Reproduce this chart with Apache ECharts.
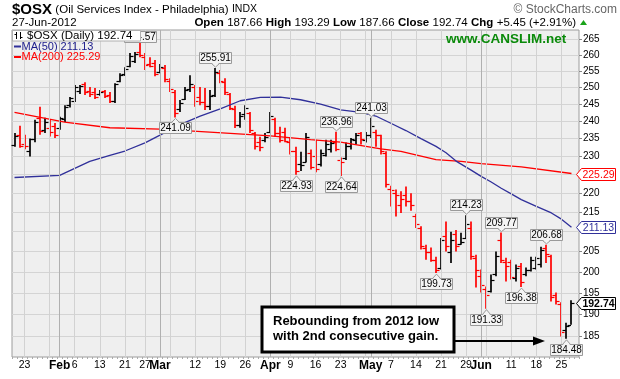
<!DOCTYPE html>
<html><head><meta charset="utf-8">
<script src="https://cdn.jsdelivr.net/npm/echarts@6/dist/echarts.min.js"></script>
<style>html,body{margin:0;padding:0;background:#fff}#c{width:620px;height:379px}</style>
</head><body><div id="c"></div>
<script>
// ---------- DATA ----------
const days = [
 "2012-01-19","2012-01-20","2012-01-23","2012-01-24","2012-01-25","2012-01-26","2012-01-27","2012-01-30","2012-01-31",
 "2012-02-01","2012-02-02","2012-02-03","2012-02-06","2012-02-07","2012-02-08","2012-02-09","2012-02-10","2012-02-13","2012-02-14",
 "2012-02-15","2012-02-16","2012-02-17","2012-02-21","2012-02-22","2012-02-23","2012-02-24","2012-02-27","2012-02-28","2012-02-29",
 "2012-03-01","2012-03-02","2012-03-05","2012-03-06","2012-03-07","2012-03-08","2012-03-09","2012-03-12","2012-03-13","2012-03-14",
 "2012-03-15","2012-03-16","2012-03-19","2012-03-20","2012-03-21","2012-03-22","2012-03-23","2012-03-26","2012-03-27","2012-03-28",
 "2012-03-29","2012-03-30",
 "2012-04-02","2012-04-03","2012-04-04","2012-04-05","2012-04-09","2012-04-10","2012-04-11","2012-04-12","2012-04-13","2012-04-16",
 "2012-04-17","2012-04-18","2012-04-19","2012-04-20","2012-04-23","2012-04-24","2012-04-25","2012-04-26","2012-04-27","2012-04-30",
 "2012-05-01","2012-05-02","2012-05-03","2012-05-04","2012-05-07","2012-05-08","2012-05-09","2012-05-10","2012-05-11","2012-05-14",
 "2012-05-15","2012-05-16","2012-05-17","2012-05-18","2012-05-21","2012-05-22","2012-05-23","2012-05-24","2012-05-25","2012-05-29",
 "2012-05-30","2012-05-31",
 "2012-06-01","2012-06-04","2012-06-05","2012-06-06","2012-06-07","2012-06-08","2012-06-11","2012-06-12","2012-06-13","2012-06-14",
 "2012-06-15","2012-06-18","2012-06-19","2012-06-20","2012-06-21","2012-06-22","2012-06-25","2012-06-26","2012-06-27"
];
const opens = [233.3,236.0,233.4,231.5,235.0,241.0,237.5,238.0,238.5,
 238.0,240.5,244.8,246.0,249.0,251.0,248.8,248.5,248.0,248.8,247.8,246.0,252.0,254.0,256.5,258.0,261.0,259.5,257.2,257.5,
 254.8,256.0,252.0,248.5,243.5,246.5,249.5,250.0,247.0,245.5,244.5,247.8,254.5,251.5,248.0,243.5,239.0,242.0,242.5,236.5,234.0,234.5,
 237.0,240.5,236.5,237.0,234.0,231.5,228.0,228.5,231.0,230.0,228.0,230.5,232.0,234.0,229.0,229.5,233.0,234.5,236.5,234.5,
 236.0,237.0,236.0,231.0,221.0,220.0,217.0,219.5,218.0,214.0,211.0,206.0,205.0,203.0,201.0,209.0,205.0,209.5,207.0,208.5,211.0,203.5,
 199.0,196.0,195.5,199.5,208.0,202.5,202.5,198.5,201.5,199.5,200.5,201.0,202.0,205.8,204.0,194.5,192.5,186.5,187.66];
const highs = [236.6,238.7,236.1,235.0,240.4,244.2,241.0,240.4,239.5,
 241.3,244.7,247.1,250.7,250.7,251.6,250.1,249.8,249.2,249.2,248.6,251.3,254.3,256.2,260.6,260.9,264.57,260.6,259.3,258.4,
 257.2,256.9,252.8,249.2,246.2,250.1,253.7,250.7,250.1,249.8,249.2,255.91,255.3,252.8,248.3,244.5,242.7,244.7,242.7,236.9,235.5,236.6,
 242.7,241.0,238.4,238.1,235.2,232.7,231.3,236.6,231.9,234.7,231.9,234.7,234.7,236.96,229.7,233.9,235.2,236.6,236.9,236.9,
 241.03,237.5,236.1,231.4,222.0,221.0,220.5,221.8,220.0,214.6,211.4,206.7,206.0,203.7,208.4,212.6,210.0,210.4,209.7,214.23,212.6,204.2,
 200.6,196.5,199.4,205.0,209.77,203.5,203.0,201.8,202.2,201.1,203.7,203.7,206.2,206.68,204.2,195.1,192.8,188.1,193.29];
const lows = [232.7,232.4,232.0,230.0,234.0,236.1,236.6,235.6,235.2,
 237.5,239.8,244.0,245.6,248.0,247.7,247.1,246.5,247.5,246.8,245.3,245.3,251.6,253.5,256.2,257.5,259.3,255.3,256.2,253.4,
 254.3,251.6,248.6,241.09,242.7,246.2,248.6,244.2,244.7,243.3,243.3,247.1,251.3,247.7,243.3,238.0,238.1,240.4,236.6,231.9,231.4,234.0,
 236.6,235.5,233.9,234.0,230.5,224.93,226.0,228.3,226.4,225.6,227.2,230.0,231.1,231.4,224.64,229.0,231.9,233.3,233.3,233.9,
 235.2,232.7,230.5,221.5,216.5,213.9,214.8,216.5,215.4,210.9,205.5,203.0,202.5,199.73,200.6,205.0,202.2,205.0,206.7,208.4,203.0,196.3,
 195.1,191.33,195.1,199.0,202.2,197.7,198.2,197.7,196.38,199.0,200.1,200.6,201.1,202.2,193.0,192.3,185.0,184.48,187.66];
const closes = [235.6,233.0,232.8,234.8,239.8,237.2,239.9,236.8,236.0,
 240.8,244.2,246.8,250.0,250.3,248.5,248.0,247.0,248.6,247.5,246.0,251.0,253.8,255.6,259.8,260.2,259.9,257.0,256.6,254.0,
 256.3,252.5,249.5,242.5,245.3,249.2,250.9,246.0,245.5,244.5,247.5,254.8,252.0,248.5,244.0,239.0,241.5,243.8,237.5,233.0,232.5,235.5,
 241.5,236.5,234.5,234.2,231.5,226.0,227.5,235.5,227.0,226.5,231.0,233.5,233.8,232.0,228.5,233.0,234.8,236.0,234.8,236.0,
 238.5,236.0,231.5,222.5,220.8,219.5,218.5,218.0,217.0,212.0,206.5,204.8,203.0,200.5,208.0,206.5,208.0,206.5,207.5,212.0,204.0,200.5,
 197.0,194.5,198.0,204.0,203.0,201.5,198.8,201.0,197.5,200.5,203.0,203.5,205.5,204.5,194.0,193.0,186.0,187.29,192.74];

// MA readings
const ma50Days = ["2012-01-19","2012-02-01","2012-02-09","2012-02-15","2012-02-21","2012-02-27","2012-03-01","2012-03-07","2012-03-13",
 "2012-03-19","2012-03-23","2012-03-29","2012-04-04","2012-04-11","2012-04-17","2012-04-23","2012-04-27","2012-05-02","2012-05-07",
 "2012-05-10","2012-05-15","2012-05-18","2012-05-22","2012-05-24","2012-05-30","2012-06-01","2012-06-05","2012-06-07","2012-06-11",
 "2012-06-13","2012-06-18","2012-06-21","2012-06-25","2012-06-27"];
const ma50Vals = [224.2,224.8,228.6,230.3,231.5,233.8,236.0,239.0,241.5,
 243.6,246.0,247.0,247.1,246.3,245.0,243.3,242.6,241.5,239.4,
 237.3,235.0,232.8,231.0,228.7,226.2,224.5,223.0,221.3,219.8,
 218.3,216.5,214.8,213.2,211.13];
const ma200Days = ["2012-01-19","2012-02-02","2012-02-15","2012-03-01","2012-03-08","2012-03-21","2012-04-02","2012-04-13","2012-04-23",
 "2012-05-03","2012-05-09","2012-05-18","2012-05-25","2012-06-01","2012-06-13","2012-06-27"];
const ma200Vals = [242.6,239.7,238.1,237.7,237.3,236.5,235.8,234.7,234.0,232.1,231.4,229.1,228.6,228.0,227.1,225.29];

const yTicks = [185,190,195,200,205,210,215,220,225,230,235,240,245,250,255,260,265];
const xLabelDays = ["2012-01-23","2012-02-01","2012-02-06","2012-02-13","2012-02-21","2012-02-27","2012-03-01","2012-03-12","2012-03-19",
 "2012-03-26","2012-04-02","2012-04-09","2012-04-16","2012-04-23","2012-05-01","2012-05-07","2012-05-14","2012-05-21","2012-05-29",
 "2012-06-01","2012-06-11","2012-06-18","2012-06-25"];
const xLabelTexts = ["23","Feb","6","13","21","27","Mar","12","19","26","Apr","9","16","23","May","7","14","21","29","Jun","11","18","25"];
const weekLineDays = ["2012-01-23","2012-01-30","2012-02-06","2012-02-13","2012-02-21","2012-02-27","2012-03-05","2012-03-12","2012-03-19",
 "2012-03-26","2012-04-09","2012-04-16","2012-04-23","2012-04-30","2012-05-07","2012-05-14","2012-05-21","2012-05-29","2012-06-04",
 "2012-06-11","2012-06-18","2012-06-25"];
const monthLineDays = ["2012-02-01","2012-03-01","2012-04-02","2012-05-01","2012-06-01"];

const peakDays = ["2012-02-24","2012-03-06","2012-03-16","2012-04-10","2012-04-20","2012-04-23","2012-05-01","2012-05-18","2012-05-29",
 "2012-06-04","2012-06-07","2012-06-13","2012-06-20","2012-06-26"];
const peakVals = [264.57,241.09,255.91,224.93,236.96,224.64,241.03,199.73,214.23,191.33,209.77,196.38,206.68,184.48];
const peakDirs = [1,-1,1,-1,1,-1,1,-1,1,-1,1,-1,1,-1];

// ---------- BUILD ----------
const FONT = '"Liberation Sans", Arial, sans-serif';
const cats = days.concat(['']);
const idx = d => days.indexOf(d);
const ohlc = days.map((d, i) => [i, opens[i], closes[i], lows[i], highs[i], (i > 0 && closes[i] < closes[i-1]) ? 1 : 0]);
const ma50Data = ma50Days.map((d, k) => [idx(d), ma50Vals[k]]);
const ma200Data = ma200Days.map((d, k) => [idx(d), ma200Vals[k]]);
const peakData = peakDays.map((d, k) => [idx(d), peakVals[k], peakDirs[k]]);
const last = days.length - 1;
const tagData = [[last, ma200Vals[ma200Vals.length-1], 0], [last, ma50Vals[ma50Vals.length-1], 1], [last, closes[last], 2]];
const labelMap = {};
xLabelDays.forEach((d, k) => labelMap[d] = xLabelTexts[k]);
const monthNames = ['Jan','Feb','Mar','Apr','May','Jun','Jul'];

const RED = '#ff0000', BLUE = '#30309a';

function renderOHLC(params, api) {
  const i = api.value(0);
  const pO = api.coord([i, api.value(1)]);
  const pC = api.coord([i, api.value(2)]);
  const pL = api.coord([i, api.value(3)]);
  const pH = api.coord([i, api.value(4)]);
  const col = api.value(5) ? RED : '#000';
  const x = Math.round(pH[0]);
  const yo = Math.round(pO[1]) + 0.5, yc = Math.round(pC[1]) + 0.5;
  return {type:'group', children:[
    {type:'line', shape:{x1:x, y1:pH[1], x2:x, y2:pL[1]}, style:{stroke:col, lineWidth:1.7}},
    {type:'line', shape:{x1:x-3.5, y1:yo, x2:x, y2:yo}, style:{stroke:col, lineWidth:1.2}},
    {type:'line', shape:{x1:x, y1:yc, x2:x+3.5, y2:yc}, style:{stroke:col, lineWidth:1.2}}
  ]};
}

function renderPeak(params, api) {
  const cs = params.coordSys;
  const p = api.coord([api.value(0), api.value(1)]);
  const up = api.value(2) > 0;
  const txt = api.value(1).toFixed(2);
  const w = 32, h = 11, gap = 5;
  const x = Math.round(p[0]) + 0.5;
  let by = up ? Math.round(p[1] - gap - h) + 0.5 : Math.round(p[1] + gap) + 0.5;
  by = Math.max(by, cs.y + 1.5);
  by = Math.min(by, cs.y + cs.height - h - 1.5);
  const baseY = up ? by + h : by;
  const tipY = up ? p[1] - 1 : p[1] + 1;
  const children = [
    {type:'rect', shape:{x:x - w/2, y:by, width:w, height:h}, style:{fill:'#f4f4f4', stroke:'#9a9a9a', lineWidth:1}}
  ];
  if ((up && tipY > baseY + 1) || (!up && tipY < baseY - 1)) {
    children.push({type:'polygon', shape:{points:[[x-4, baseY + (up?-1:1)], [x+4, baseY + (up?-1:1)], [x, tipY]]}, style:{fill:'#f4f4f4'}});
    children.push({type:'polyline', shape:{points:[[x-4, baseY], [x, tipY], [x+4, baseY]]}, style:{stroke:'#9a9a9a', fill:null, lineWidth:1}});
  }
  children.push({type:'text', style:{text:txt, x:x, y:by + h/2 + 0.5, align:'center', verticalAlign:'middle', fontSize:10, fontFamily:FONT, fill:'#000'}});
  return {type:'group', children:children};
}

const tagStyles = [
  {stroke:RED, fill:RED, weight:'normal'},
  {stroke:BLUE, fill:BLUE, weight:'normal'},
  {stroke:'#000', fill:'#000', weight:'bold'}
];
function renderTag(params, api) {
  const cs = params.coordSys;
  const y = Math.round(api.coord([api.value(0), api.value(1)])[1]) + 0.5;
  const x0 = cs.x + cs.width - 2.5;
  const s = tagStyles[api.value(2)];
  const pts = [[x0, y], [x0+5, y-6], [x0+39, y-6], [x0+39, y+6], [x0+5, y+6]];
  return {type:'group', children:[
    {type:'polygon', shape:{points:pts}, style:{fill:'#fff', stroke:s.stroke, lineWidth:1}},
    {type:'text', style:{text:api.value(1).toFixed(2), x:x0+22, y:y+0.5, align:'center', verticalAlign:'middle', fontSize:10.5, fontWeight:s.weight, fontFamily:FONT, fill:s.fill}}
  ]};
}

const vLines = weekLineDays.map(d => ({xAxis: idx(d), lineStyle:{color:'#d2d2d2', width:1, type:'solid'}}))
  .concat(monthLineDays.map(d => ({xAxis: idx(d), lineStyle:{color:'#b0b0b0', width:1, type:'solid'}})));

const chart = echarts.init(document.getElementById('c'), null, {renderer:'canvas'});
chart.setOption({
  animation: false,
  textStyle: {fontFamily: FONT},
  grid: {left:12, top:30, width:567, height:327, show:true, backgroundColor:'#efefef', borderColor:'#9c9c9c', borderWidth:1},
  xAxis: {
    type:'category', data:cats, boundaryGap:true,
    axisLine:{show:false},
    axisTick:{show:true, interval:0, length:2, lineStyle:{color:'#aaa'}},
    axisLabel:{
      interval:(i, v) => labelMap[v] !== undefined,
      margin:3, color:'#000',
      formatter:(v) => { const t = labelMap[v]; return monthNames.indexOf(t) >= 0 ? '{m|' + t + '}' : '{d|' + t + '}'; },
      rich:{m:{fontWeight:'bold', fontSize:12, fontFamily:FONT, color:'#000'}, d:{fontSize:10.5, fontFamily:FONT, color:'#000'}}
    },
    splitLine:{show:false}
  },
  yAxis: {
    type:'log', logBase:10, min:180.47, max:267.97, position:'right',
    axisLine:{show:false},
    axisTick:{show:true, length:3, customValues:yTicks, lineStyle:{color:'#888'}},
    axisLabel:{customValues:yTicks, fontSize:10, color:'#000', margin:4, fontFamily:FONT},
    splitLine:{show:true, lineStyle:{color:'#d4d4d4', width:1}}
  },
  series: [
    {type:'line', name:'vgrid', data:[], z:1, silent:true,
     markLine:{silent:true, symbol:['none','none'], label:{show:false}, animation:false, data:vLines}},
    {type:'custom', name:'ohlc', renderItem:renderOHLC, data:ohlc, encode:{x:0, y:[1,2,3,4]}, z:3, clip:false},
    {type:'line', name:'MA200', data:ma200Data, showSymbol:false, symbol:'none', connectNulls:true, z:4,
     lineStyle:{color:RED, width:1.3}},
    {type:'line', name:'MA50', data:ma50Data, showSymbol:false, symbol:'none', connectNulls:true, z:4,
     lineStyle:{color:BLUE, width:1.3}},
    {type:'custom', name:'peaks', renderItem:renderPeak, data:peakData, encode:{x:0, y:1}, z:6, clip:false},
    {type:'custom', name:'tags', renderItem:renderTag, data:tagData, encode:{x:0, y:1}, z:6, clip:false}
  ],
  graphic: [
    {type:'text', left:12, top:2, z:100, style:{text:'{b|$OSX} {n|(Oil Services Index - Philadelphia)} {s|INDX}', rich:{
      b:{fontWeight:'bold', fontSize:15, fontFamily:FONT, fill:'#000'},
      n:{fontSize:11.5, fontFamily:FONT, fill:'#000'},
      s:{fontSize:10.5, fontFamily:FONT, fill:'#000'}}}},
    {type:'text', right:3, top:4, z:100, style:{text:'© StockCharts.com', fontSize:12, fontFamily:FONT, fill:'#666'}},
    {type:'text', left:12, top:17, z:100, style:{text:'27-Jun-2012', fontSize:11.5, fontFamily:FONT, fill:'#000'}},
    {type:'text', right:44, top:17, z:100, style:{
      text:'{b|Open} {n|187.66} {b|High} {n|193.29} {b|Low} {n|187.66} {b|Close} {n|192.74} {b|Chg} {n|+5.45 (+2.91%)}',
      rich:{b:{fontWeight:'bold', fontSize:11.5, fontFamily:FONT, fill:'#000'}, n:{fontSize:11.5, fontFamily:FONT, fill:'#000'}}}},
    {type:'polygon', z:100, shape:{points:[[580,25],[587,25],[583.5,20]]}, style:{fill:'#1aa31a'}},
    // legend
    {type:'rect', z:100, shape:{x:12.5, y:30.5, width:128, height:10.5}, style:{fill:'#fff', stroke:'#b0b0b0'}},
    {type:'line', z:101, shape:{x1:16.5, y1:32, x2:16.5, y2:39}, style:{stroke:'#000', lineWidth:1}},
    {type:'line', z:101, shape:{x1:14.5, y1:34.5, x2:16.5, y2:34.5}, style:{stroke:'#000', lineWidth:1}},
    {type:'line', z:101, shape:{x1:20.5, y1:32, x2:20.5, y2:39}, style:{stroke:'#000', lineWidth:1}},
    {type:'line', z:101, shape:{x1:20.5, y1:37.5, x2:22.5, y2:37.5}, style:{stroke:'#000', lineWidth:1}},
    {type:'text', z:101, left:27, top:30, style:{text:'$OSX (Daily) 192.74', fontSize:11.5, fontFamily:FONT, fill:'#000'}},
    {type:'line', z:101, shape:{x1:14, y1:46.5, x2:21, y2:46.5}, style:{stroke:BLUE, lineWidth:2}},
    {type:'text', z:101, left:21.5, top:41, style:{text:'MA(50) 211.13', fontSize:11, fontFamily:FONT, fill:'#1c1c8c'}},
    {type:'line', z:101, shape:{x1:14, y1:57, x2:21, y2:57}, style:{stroke:RED, lineWidth:2}},
    {type:'text', z:101, left:21.5, top:51.5, style:{text:'MA(200) 225.29', fontSize:11, fontFamily:FONT, fill:RED}},
    // watermark
    {type:'text', z:100, left:446, top:32, style:{text:'www.CANSLIM.net', fontSize:13.5, fontWeight:'bold', fontFamily:FONT, fill:'#0a8a0a'}},
    // annotation
    {type:'rect', z:100, shape:{x:262, y:307, width:192, height:45}, style:{fill:'#fff', stroke:'#000', lineWidth:3}},
    {type:'text', z:101, left:273, top:314, style:{text:'Rebounding from 2012 low\nwith 2nd consecutive gain.', fontSize:13, fontWeight:'bold', fontFamily:FONT, fill:'#000', lineHeight:15}},
    {type:'line', z:100, shape:{x1:455, y1:341, x2:536, y2:341}, style:{stroke:'#000', lineWidth:2}},
    {type:'polygon', z:100, shape:{points:[[533,336.5],[545,341],[533,345.5]]}, style:{fill:'#000'}}
  ]
});
</script>
</body></html>
